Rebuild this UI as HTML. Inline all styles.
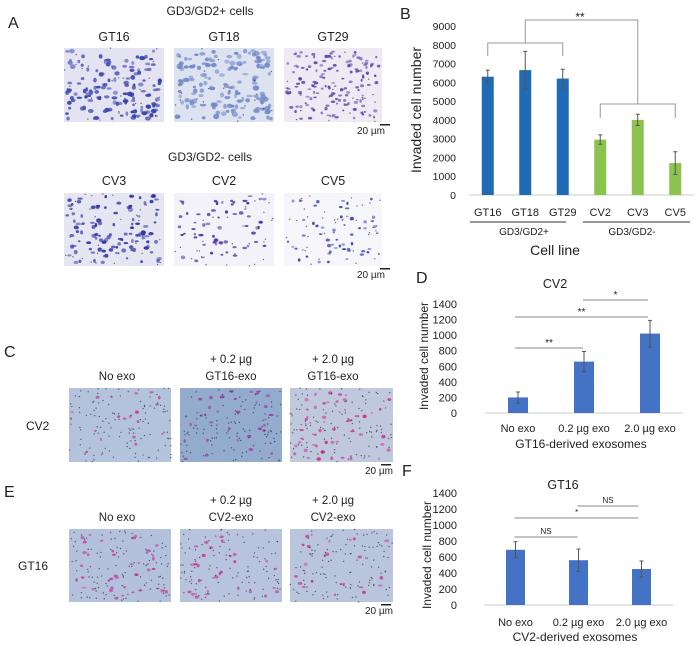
<!DOCTYPE html>
<html><head><meta charset="utf-8"><style>
body{margin:0;background:#fff;}
#root{position:relative;width:698px;height:645px;overflow:hidden;font-family:"Liberation Sans",sans-serif;}
svg text{font-family:"Liberation Sans",sans-serif;fill:#222;}
</style></head><body>
<div id="root">
<svg id="fig" width="698" height="645" viewBox="0 0 698 645" xmlns="http://www.w3.org/2000/svg">
<g id="imgs"></g>
<g id="labels">
<text x="8" y="28" font-size="16">A</text>
<text x="400" y="19" font-size="16">B</text>
<text x="4" y="357" font-size="16">C</text>
<text x="416" y="283" font-size="16">D</text>
<text x="4" y="497" font-size="16">E</text>
<text x="402" y="476" font-size="16">F</text>
<text x="210" y="15" font-size="12" text-anchor="middle">GD3/GD2+ cells</text>
<text x="114" y="41" font-size="12.5" text-anchor="middle">GT16</text>
<text x="224" y="41" font-size="12.5" text-anchor="middle">GT18</text>
<text x="333" y="41" font-size="12.5" text-anchor="middle">GT29</text>
<text x="210" y="161" font-size="12" text-anchor="middle">GD3/GD2- cells</text>
<text x="114" y="185" font-size="12.5" text-anchor="middle">CV3</text>
<text x="224" y="185" font-size="12.5" text-anchor="middle">CV2</text>
<text x="333" y="185" font-size="12.5" text-anchor="middle">CV5</text>
<text x="357" y="134" font-size="10">20 µm</text>
<text x="357" y="278" font-size="10">20 µm</text>
<text x="117" y="380" font-size="11.5" text-anchor="middle">No exo</text>
<text x="231" y="363" font-size="11.5" text-anchor="middle">+ 0.2 µg</text>
<text x="231" y="380" font-size="11.5" text-anchor="middle">GT16-exo</text>
<text x="333" y="363" font-size="11.5" text-anchor="middle">+ 2.0 µg</text>
<text x="333" y="380" font-size="11.5" text-anchor="middle">GT16-exo</text>
<text x="26" y="430" font-size="12">CV2</text>
<text x="365" y="474" font-size="10">20 µm</text>
<text x="117" y="521" font-size="11.5" text-anchor="middle">No exo</text>
<text x="231" y="504" font-size="11.5" text-anchor="middle">+ 0.2 µg</text>
<text x="231" y="521" font-size="11.5" text-anchor="middle">CV2-exo</text>
<text x="333" y="504" font-size="11.5" text-anchor="middle">+ 2.0 µg</text>
<text x="333" y="521" font-size="11.5" text-anchor="middle">CV2-exo</text>
<text x="18" y="570" font-size="12">GT16</text>
<text x="365" y="614" font-size="10">20 µm</text>
<rect x="380" y="124" width="10" height="1.5" fill="#222"/><rect x="380" y="268" width="10" height="1.5" fill="#222"/>
<rect x="381" y="464" width="10" height="1.5" fill="#222"/><rect x="381" y="604" width="10" height="1.5" fill="#222"/>
</g>
<g id="chartB"></g>
<g id="chartD"></g>
<g id="chartF"></g>
</svg>
</div>
<script>
// Chart B data
const bCategories = ["GT16","GT18","GT29","CV2","CV3","CV5"];
const bValues = [6300,6650,6200,2950,4000,1700];
const bErrors = [350,1000,500,250,300,600];
const bTicks = [0,1000,2000,3000,4000,5000,6000,7000,8000,9000];
// Chart D data
const dCategories = ["No exo","0.2 µg exo","2.0 µg exo"];
const dValues = [200,660,1020];
const dErrors = [70,130,170];
const dTicks = [0,200,400,600,800,1000,1200,1400];
// Chart F data
const fCategories = ["No exo","0.2 µg exo","2.0 µg exo"];
const fValues = [690,560,450];
const fErrors = [100,140,100];
const fTicks = [0,200,400,600,800,1000,1200,1400];

const NS="http://www.w3.org/2000/svg";
function mk(parent,tag,attrs,text){const e=document.createElementNS(NS,tag);for(const k in attrs)e.setAttribute(k,attrs[k]);if(text!==undefined)e.textContent=text;parent.appendChild(e);return e;}

// micrographs (decorative texture)
let seed=7;function rnd(){seed=(seed*16807)%2147483647;return seed/2147483647;}
const imgs=document.getElementById('imgs');
function micro(x,y,w,h,bg,cell,n,dots,name,sz){
  const g=mk(imgs,'g',{});
  
  
  mk(g,'rect',{x:x,y:y,width:w,height:h,fill:bg});
  for(let i=0;i<n;i++){mk(g,'ellipse',{cx:x+3+rnd()*(w-6),cy:y+3+rnd()*(h-6),rx:sz*(0.6+rnd()*0.8),ry:sz*(0.5+rnd()*0.6),fill:cell,opacity:0.5+rnd()*0.5});}
  for(let i=0;i<dots;i++){mk(g,'circle',{cx:x+rnd()*w,cy:y+rnd()*h,r:0.7,fill:'#333',opacity:0.7});}
}
const ax=[64,174,284];
micro(ax[0],48,100,74,'#e4e3f1','#3b45b0',140,30,'gt16-image',2.2);
micro(ax[1],48,100,74,'#dde2f1','#7389c8',150,20,'gt18-image',2.4);
micro(ax[2],48,98,74,'#eeeaf3','#5a4bb0',150,20,'gt29-image',1.6);
micro(ax[0],193,100,73,'#e6e6f2','#3338a5',110,30,'cv3-image',2);
micro(ax[1],193,100,73,'#f3f2f8','#4336a8',60,30,'cv2-image',1.8);
micro(ax[2],193,98,73,'#f5f5fa','#3d46b2',55,40,'cv5-image',1.6);
const cx=[69,180,290];
micro(cx[0],388,102,74,'#b4c3dc','#c0409a',18,120,'c-noexo-image',1.6);
micro(cx[1],388,102,74,'#93abcc','#9a3fa8',35,110,'c-02-image',1.8);
micro(cx[2],388,103,74,'#c0c8dd','#cc3a96',45,120,'c-20-image',1.7);
micro(cx[0],529,102,73,'#b3c1dc','#c73c9e',40,110,'e-noexo-image',1.7);
micro(cx[1],529,102,73,'#b8c4dd','#c4419f',28,110,'e-02-image',1.7);
micro(cx[2],529,103,73,'#b9c4dd','#c64099',22,120,'e-20-image',1.7);

function barChart(gid,cats,vals,errs,ticks,o){
  const g=document.getElementById(gid);
  const maxT=ticks[ticks.length-1];
  const yS=v=>o.y0-(v/maxT)*(o.y0-o.yTop);
  const xS=i=>o.x0+o.step*(i+0.5);
  ticks.forEach(t=>{const e=mk(g,'text',{x:o.labX,y:yS(t)+4,'font-size':o.fs,'text-anchor':'end'},t);
    
    });
  const base=mk(g,'line',{x1:o.x0,x2:o.x0+o.step*cats.length,y1:o.y0,y2:o.y0,stroke:'#ccc','stroke-width':1});
  
  
  cats.forEach((c,i)=>{
    const v=vals[i],x=xS(i),col=o.colors?o.colors[i]:o.color;
    const r=mk(g,'rect',{x:x-o.bw/2,y:yS(v),width:o.bw,height:o.y0-yS(v),fill:col});
    
    
    const e1=yS(v+errs[i]),e2=yS(v-errs[i]);
    const eb=mk(g,'path',{d:`M${x},${e1}V${e2}M${x-2},${e1}H${x+2}M${x-2},${e2}H${x+2}`,stroke:'#555','stroke-width':1,fill:'none'});
    
    
    const t=mk(g,'text',{x:x,y:o.catY,'font-size':o.cfs||o.fs,'text-anchor':'middle'},c);
    
    
  });
  return {xS,yS,g};
}

// B
const B=barChart('chartB',bCategories,bValues,bErrors,bTicks,{x0:469,step:37.5,y0:195,yTop:26,bw:12,labX:456,fs:10.5,cfs:11,catY:216,colors:['#1f6bb5','#1f6bb5','#1f6bb5','#8cc34f','#8cc34f','#8cc34f']});
{const g=B.g;
 const t=mk(g,'text',{x:0,y:0,'font-size':14,'text-anchor':'middle',transform:'translate(421,110) rotate(-90)'},'Invaded  cell number');
 
 mk(g,'line',{x1:470,x2:566,y1:222,y2:222,stroke:'#333'});
 mk(g,'line',{x1:583,x2:690,y1:222,y2:222,stroke:'#333'});
 let e=mk(g,'text',{x:524,y:235,'font-size':10,'text-anchor':'middle'},'GD3/GD2+');
 e=mk(g,'text',{x:632,y:235,'font-size':10,'text-anchor':'middle'},'GD3/GD2-');
 e=mk(g,'text',{x:555,y:255,'font-size':14,'text-anchor':'middle'},'Cell line');
 const gx1=B.xS(0),gx2=B.xS(2),cx1=B.xS(3),cx2=B.xS(5);
 const br=mk(g,'path',{d:`M${gx1},56V43H${gx2}V56M${(gx1+gx2)/2},43V20H${(cx1+cx2)/2}V104M${cx1},118V104H${cx2}V118`,stroke:'#999',fill:'none','stroke-width':1});
 
 e=mk(g,'text',{x:580,y:21,'font-size':12,'text-anchor':'middle'},'**');
}
// D
const D=barChart('chartD',dCategories,dValues,dErrors,dTicks,{x0:485,step:66,y0:413,yTop:304,bw:20,labX:457,fs:11,catY:432,color:'#4472c4'});
{const g=D.g;
 let e=mk(g,'text',{x:0,y:0,'font-size':12,'text-anchor':'middle',transform:'translate(428,356) rotate(-90)'},'Invaded cell number');
 e=mk(g,'text',{x:555,y:288,'font-size':12.5,'text-anchor':'middle'},'CV2');
 e=mk(g,'text',{x:581,y:448,'font-size':12,'text-anchor':'middle'},'GT16-derived exosomes');
 const a=D.xS(0)-3,b=D.xS(1)-1,c=D.xS(2)-2;
 [[a,b,348,'**'],[a,c,317,'**'],[b,c,300,'*']].forEach(s=>{
   const l=mk(g,'line',{x1:s[0],x2:s[1],y1:s[2],y2:s[2],stroke:'#888'});
   const t=mk(g,'text',{x:(s[0]+s[1])/2,y:s[2]-2,'font-size':10,'text-anchor':'middle'},s[3]);});
}
// F
const F=barChart('chartF',fCategories,fValues,fErrors,fTicks,{x0:484,step:63,y0:605,yTop:493,bw:19,labX:457,fs:11,catY:626,color:'#4472c4'});
{const g=F.g;
 let e=mk(g,'text',{x:0,y:0,'font-size':12,'text-anchor':'middle',transform:'translate(431,555) rotate(-90)'},'Invaded cell number');
 e=mk(g,'text',{x:563,y:489,'font-size':12.5,'text-anchor':'middle'},'GT16');
 e=mk(g,'text',{x:575,y:641,'font-size':12,'text-anchor':'middle'},'CV2-derived exosomes');
 const a=F.xS(0)-1,b=F.xS(1)-1,c=F.xS(2)-3;
 [[a,b,537,'NS'],[a,c,518,'*'],[b,c,506,'NS']].forEach(s=>{
   const l=mk(g,'line',{x1:s[0],x2:s[1],y1:s[2],y2:s[2],stroke:'#888'});
   const t=mk(g,'text',{x:(s[0]+s[1])/2,y:s[2]-3,'font-size':8,'text-anchor':'middle'},s[3]);});
}
</script>
</body></html>
